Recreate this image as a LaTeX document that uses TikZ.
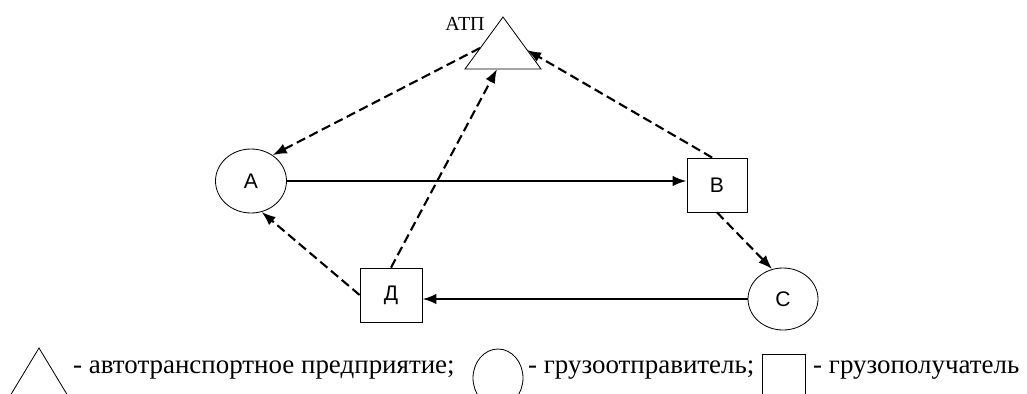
\documentclass[tikz,border=0pt]{standalone}
\usepackage{fontspec}
\setmainfont{Liberation Serif}
\setsansfont{Liberation Sans}
\usepackage{tikz}
\usetikzlibrary{shapes.geometric,arrows.meta}
\newcommand{\pxl}{0.03cm}
\tikzstyle{trait}=[line width=0.7pt]
\tikzstyle{gruzh}=[line width=1.8pt,-{Latex[length=12pt,width=9pt]}]
\tikzstyle{porozh}=[gruzh,dash pattern=on 8pt off 4pt]
\tikzstyle{otpr}=[draw,trait,ellipse,inner sep=0,font=\sffamily\fontsize{18}{18}\selectfont]
\tikzstyle{poluch}=[draw,trait,rectangle,inner sep=0,font=\sffamily\fontsize{18}{18}\selectfont]
\tikzstyle{legende}=[anchor=base west,inner sep=0,font=\rmfamily\fontsize{23}{23}\selectfont]

\begin{document}
\begin{tikzpicture}[x=\pxl,y=-\pxl]
\useasboundingbox (0,0) rectangle (1027,394);

% ATP
\coordinate (atp) at (503,17);
\coordinate (atpl) at (465,69);
\coordinate (atpr) at (541,69);
\draw[trait,join=miter] (atpl) -- (atp) -- (atpr) -- cycle;
\node[inner sep=0,font=\rmfamily\fontsize{17}{17}\selectfont] (atpnom) at (465,24) {АТП};
\coordinate (atpg) at (480,48);
\coordinate (atpd) at (527,50);
\coordinate (atpb) at (497,69);

% clients
\node[otpr,minimum width=71*\pxl,minimum height=64*\pxl] (A) at (251,181) {А};
\node[poluch,minimum width=60*\pxl,minimum height=54*\pxl] (B) at (717,185) {В};
\node[poluch,minimum width=62*\pxl,minimum height=54*\pxl] (D) at (391,295) {Д};
\node[otpr,minimum width=70*\pxl,minimum height=62*\pxl] (C) at (783,299) {С};

% gruzhenye
\draw[gruzh] (A) -- (A -| B.west);
\draw[gruzh] (C) -- (C -| D.east);

% porozhnie
\draw[porozh] (atpg) -- (A.50);
\draw[porozh] (B.100) -- (atpd);
\draw[porozh] (B.south) -- (C.110);
\draw[porozh] (D.west) -- (A.-71);
\draw[porozh] (D.north) -- (atpb);

% legende
\begin{scope}
\clip (0,0) rectangle (1027,394);
\draw[trait] (10,396) -- (39,348) -- (68,396);
\draw[trait] (498,378) ellipse [x radius=25*\pxl,y radius=29*\pxl];
\draw[trait] (762,396) |- (805,354) -- (805,396);
\end{scope}
\node[legende] (l1) at (73,373) {- автотранспортное предприятие;};
\node[legende] (l2) at (528,373) {- грузоотправитель;};
\node[legende] (l3) at (813,373) {- грузополучатель};
\end{tikzpicture}
\end{document}
